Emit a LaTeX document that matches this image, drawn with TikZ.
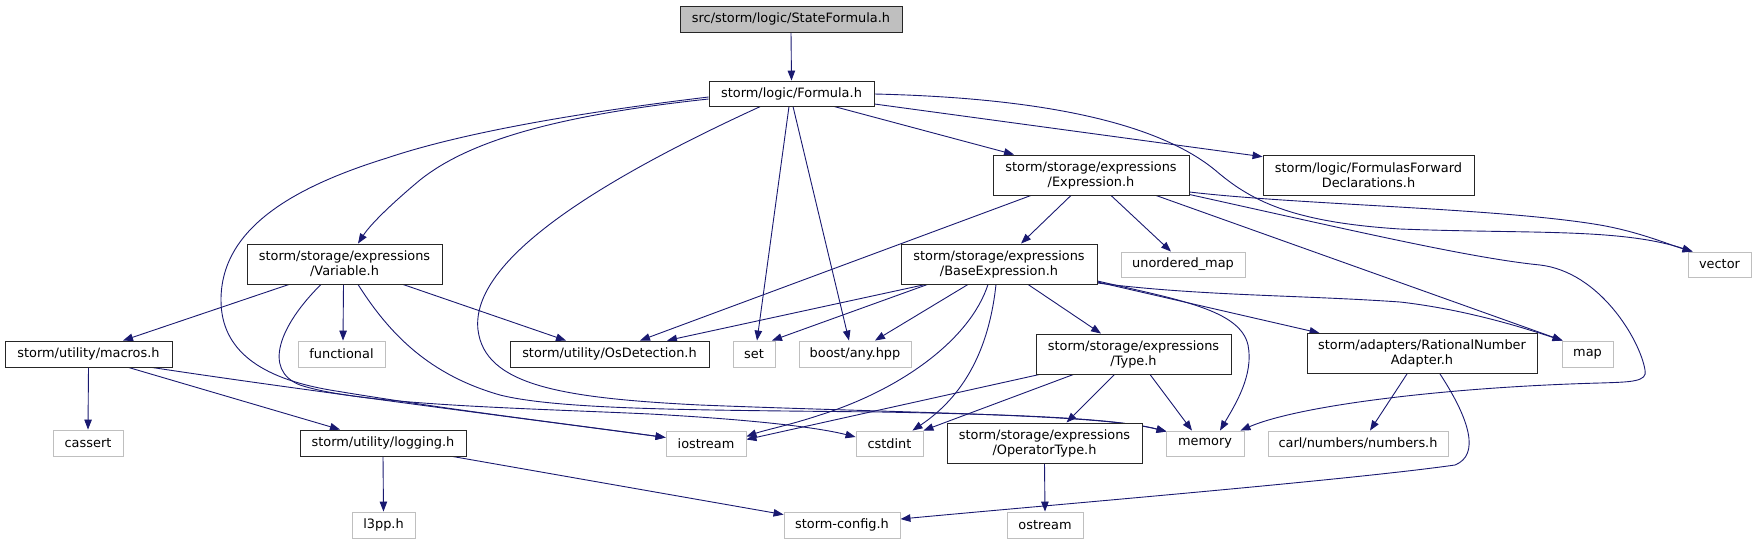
\documentclass[tikz,border=0pt]{standalone}
\usepackage{fontspec}
\setmainfont{DejaVu Sans}
\usetikzlibrary{arrows.meta,calc}
\definecolor{edgec}{HTML}{191970}
\definecolor{grayb}{HTML}{BFBFBF}
\pgfdeclarelayer{bg}
\pgfsetlayers{bg,main}
\begin{document}
\begin{tikzpicture}[x=1pt,y=-1pt,
  nd/.style={draw=black!85,line width=0.9pt,fill=white,inner sep=0pt,align=center,
    font=\fontsize{12.9}{15}\selectfont,minimum height=26pt},
  nd2/.style={nd,minimum height=40pt},
  sys/.style={nd,draw=grayb},
  e/.style={draw=edgec,line width=0.9pt,-{Triangle[length=10pt,width=7.5pt]}},
]
\useasboundingbox (0,0) rectangle (1756,544);
% nodes
\node[nd,fill=grayb,minimum width=222pt] (sf) at (791,19) {src/storm/logic/StateFormula.h};
\node[nd,minimum width=165pt,minimum height=25pt] (fo) at (791.5,93.5) {storm/logic/Formula.h};
\node[nd2,minimum width=195pt] (var) at (344.5,264) {storm/storage/expressions\\/Variable.h};
\node[nd2,minimum width=196pt] (exp) at (1091,175) {storm/storage/expressions\\/Expression.h};
\node[nd2,minimum width=211pt] (ffd) at (1368.5,175) {storm/logic/FormulasForward\\Declarations.h};
\node[nd2,minimum width=196pt] (base) at (999,264) {storm/storage/expressions\\/BaseExpression.h};
\node[sys,minimum width=124pt,minimum height=25pt] (umap) at (1183,264.5) {unordered\_map};
\node[sys,minimum width=63pt,minimum height=25pt] (vec) at (1719.5,264.5) {vector};
\node[nd,minimum width=167pt] (macros) at (88.5,354) {storm/utility/macros.h};
\node[sys,minimum width=87pt] (func) at (341.5,354) {functional};
\node[nd,minimum width=199pt] (os) at (609.5,354) {storm/utility/OsDetection.h};
\node[sys,minimum width=42pt] (set) at (754,354) {set};
\node[sys,minimum width=112pt] (boost) at (855,354) {boost/any.hpp};
\node[nd2,minimum width=195pt] (type) at (1133.5,354) {storm/storage/expressions\\/Type.h};
\node[nd2,minimum width=230pt] (rna) at (1422,353.5) {storm/adapters/RationalNumber\\Adapter.h};
\node[sys,minimum width=51pt] (map) at (1587.5,354) {map};
\node[sys,minimum width=70pt] (cassert) at (88,443) {cassert};
\node[nd,minimum width=166pt] (logging) at (383,443) {storm/utility/logging.h};
\node[sys,minimum width=80pt,minimum height=25pt] (iostream) at (706,443.5) {iostream};
\node[sys,minimum width=67pt,minimum height=25pt] (cstdint) at (889.5,443.5) {cstdint};
\node[nd2,minimum width=195pt] (optype) at (1044.5,443) {storm/storage/expressions\\/OperatorType.h};
\node[sys,minimum width=78pt,minimum height=25pt] (memory) at (1205,443.5) {memory};
\node[sys,minimum width=180pt,minimum height=25pt] (carl) at (1358,443.5) {carl/numbers/numbers.h};
\node[sys,minimum width=63pt] (l3pp) at (383.5,525) {l3pp.h};
\node[sys,minimum width=116pt] (config) at (842,525) {storm-config.h};
\node[sys,minimum width=76pt] (ostream) at (1045,525) {ostream};
% edges
\begin{pgfonlayer}{bg}
\draw[e] (sf.south) -- (fo.north);
% Formula.h
\draw[e] ($(fo.west)+(0,5.5)$) .. controls (560,115) and (470,140) .. (420,180) .. controls (390,205) and (370,225) .. ($(var.north)+(13.5,0)$);
\draw[e] ($(fo.west)+(0,3.5)$) .. controls (600,110) and (470,130) .. (387,158) .. controls (290,188) and (221,230) .. (221,300) .. controls (221,350) and (260,378) .. (330,390) .. controls (450,410) and (560,423) .. ($(iostream.west)+(0,-6)$);
\draw[e] ($(fo.south)+(-31,0)$) .. controls (600,180) and (470,260) .. (478,330) .. controls (485,385) and (560,398) .. (700,405) .. controls (900,413) and (1100,414) .. ($(memory.north west)+(1,1)$);
\draw[e] ($(fo.south)+(-2.5,0)$) -- ($(set.north)+(3,0)$);
\draw[e] ($(fo.south)+(1.5,0)$) -- ($(boost.north)+(-6,0)$);
\draw[e] ($(fo.south)+(42.5,0)$) -- ($(exp.north)+(-77,0)$);
\draw[e] ($(fo.east)+(0,10.5)$) -- ($(ffd.west)+(0,-18.3)$);
\draw[e] ($(fo.east)+(0,0.5)$) .. controls (1050,98) and (1160,125) .. (1215,170) .. controls (1250,200) and (1290,222) .. (1400,229) .. controls (1530,234) and (1620,228) .. ($(vec.north west)+(5,0)$);
% Expression.h
\draw[e] ($(exp.east)+(0,17)$) .. controls (1300,205) and (1500,208) .. (1600,225) .. controls (1640,232) and (1670,245) .. ($(vec.north west)+(5,0)$);
\draw[e] ($(exp.east)+(0,19.5)$) .. controls (1350,230) and (1470,258) .. (1540,265) .. controls (1600,272) and (1640,340) .. (1645,370) .. controls (1648,382) and (1630,382) .. (1600,383) .. controls (1450,387) and (1300,405) .. ($(memory.north east)+(-4,0)$);
\draw[e] ($(exp.south)+(65,0)$) -- ($(map.north west)+(1,0)$);
\draw[e] ($(exp.south)+(-60,0)$) -- ($(os.north)+(30.5,0)$);
\draw[e] ($(exp.south)+(-20,0)$) -- ($(base.north)+(22,0)$);
\draw[e] ($(exp.south)+(20,0)$) -- ($(umap.north)+(-12,0)$);
% Variable.h
\draw[e] ($(var.south)+(-55.5,0)$) -- ($(macros.north)+(34.5,0)$);
\draw[e] ($(var.south)+(-23.5,0)$) .. controls (280,325) and (262,370) .. (300,385) .. controls (360,405) and (520,408) .. (650,414) .. controls (760,420) and (820,428) .. ($(cstdint.west)+(0,-6.5)$);
\draw[e] ($(var.south)+(-1,0)$) -- ($(func.north)+(1.5,0)$);
\draw[e] ($(var.south)+(13.5,0)$) .. controls (390,335) and (430,375) .. (500,395) .. controls (560,410) and (700,410) .. (880,412) .. controls (1050,415) and (1120,420) .. ($(memory.north west)+(1,1)$);
\draw[e] ($(var.south)+(58.5,0)$) -- ($(os.north)+(-43.5,0)$);
% macros.h
\draw[e] (macros.south) -- (cassert.north);
\draw[e] ($(macros.south)+(40,0)$) -- ($(logging.north)+(-43,0)$);
\draw[e] ($(macros.south)+(63.5,0)$) .. controls (300,390) and (550,422) .. ($(iostream.west)+(0,-6)$);
% logging.h
\draw[e] (logging.south) -- (l3pp.north);
\draw[e] ($(logging.south east)+(-14,0)$) -- ($(config.north west)+(0,3)$);
% BaseExpression.h
\draw[e] ($(base.south west)+(25,0)$) -- ($(os.north)+(57.5,0)$);
\draw[e] ($(base.south west)+(27,0)$) -- ($(set.north)+(18,0)$);
\draw[e] ($(base.south)+(-31,0)$) -- ($(boost.north)+(20,0)$);
\draw[e] ($(base.south)+(-11,0)$) .. controls (970,340) and (900,390) .. (820,415) .. controls (790,425) and (765,430) .. ($(iostream.east)+(0,-7)$);
\draw[e] ($(base.south)+(-3,0)$) .. controls (990,340) and (970,392) .. ($(cstdint.north east)+(-11,0)$);
\draw[e] ($(base.south)+(29,0)$) -- ($(type.north)+(-32.5,0)$);
\draw[e] ($(base.east)+(0,17)$) .. controls (1180,300) and (1240,310) .. (1248,345) .. controls (1254,375) and (1235,405) .. ($(memory.north)+(15,0)$);
\draw[e] ($(base.east)+(0,18)$) -- ($(rna.north west)+(13,0)$);
\draw[e] ($(base.east)+(0,19)$) .. controls (1200,296) and (1300,295) .. (1400,302) .. controls (1470,310) and (1530,330) .. ($(map.north west)+(1,0)$);
% Type.h
\draw[e] ($(type.south west)+(4,0)$) -- ($(iostream.east)+(0,-4)$);
\draw[e] ($(type.south)+(-60,0)$) -- (cstdint.north east);
\draw[e] ($(type.south)+(-19,0)$) -- ($(optype.north)+(22,0)$);
\draw[e] ($(type.south)+(16.5,0)$) -- ($(memory.north)+(-13,0)$);
% OperatorType.h
\draw[e] (optype.south) -- (ostream.north);
% RationalNumberAdapter.h
\draw[e] ($(rna.south)+(-15,0)$) -- ($(carl.north)+(12,0)$);
\draw[e] ($(rna.south)+(18,0)$) .. controls (1470,420) and (1480,455) .. (1455,465) .. controls (1350,480) and (1050,505) .. ($(config.east)+(0,-6)$);
\end{pgfonlayer}
\end{tikzpicture}
\end{document}
